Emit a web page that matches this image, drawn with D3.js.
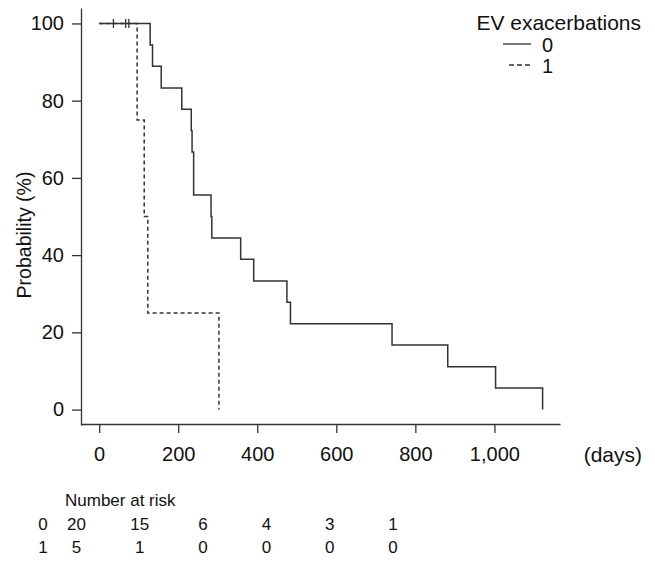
<!DOCTYPE html>
<html>
<head>
<meta charset="utf-8">
<script src="https://cdn.jsdelivr.net/npm/d3@7"></script>
<style>
  body { margin: 0; background: #fff; }
  text { font-family: Arial, "Liberation Sans", sans-serif; fill: #111; }
</style>
</head>
<body>
<svg></svg>
<script>
		// survival steps (days, % surviving)
		var times0 = [0, 129, 135, 157, 209, 233, 235, 239, 283, 285, 358, 391, 475, 484, 741, 882, 1003, 1122];
		var surv0  = [100, 94.4, 88.9, 83.3, 77.8, 72.2, 66.7, 55.6, 50, 44.4, 38.9, 33.3, 27.8, 22.2, 16.7, 11.1, 5.6, 0];
		var times1 = [0, 96, 114, 123, 303];
		var surv1  = [100, 75, 50, 25, 0];
		var censorTimes = [36, 67, 75];

		// number at risk table
		var riskTimes = [0, 200, 400, 600, 800, 1000];
		var risk0 = [20, 15, 6, 4, 3, 1];
		var risk1 = [5, 1, 0, 0, 0, 0];

		var xTicks = [0, 200, 400, 600, 800, 1000];
		var yTicks = [0, 20, 40, 60, 80, 100];
		var groups = ["0", "1"];

		var svgWidth = 655, svgHeight = 563;
		var lineColor = "#333";

		var svg = d3.select('svg')
		    .attr("width", svgWidth)
		    .attr("height", svgHeight);

		// scales
		var xScale = d3.scaleLinear()
		    .domain([-46, 1166])
		    .range([81, 560]);

		var yScale = d3.scaleLinear()
		    .domain([-4, 104])
		    .range([425, 8]);

		var riskScale = d3.scaleLinear()
		    .domain([0, 1000])
		    .range([76.5, 393]);

		// axes
		var x_axis = d3.axisBottom(xScale)
		    .tickValues(xTicks)
		    .tickSizeInner(9)
		    .tickSizeOuter(0)
		    .tickPadding(14)
		    .tickFormat(d3.format(","));

		var gx = svg.append("g")
		    .attr("transform", "translate(0, 424)")
		    .call(x_axis);

		var y_axis = d3.axisLeft(yScale)
		    .tickValues(yTicks)
		    .tickSizeInner(9)
		    .tickSizeOuter(0)
		    .tickPadding(8);

		var gy = svg.append("g")
		    .attr("transform", "translate(81, 0)")
		    .call(y_axis);

		[gx, gy].forEach(function(g) {
		    g.select(".domain").attr("stroke", lineColor).attr("stroke-width", 1.3);
		    g.selectAll(".tick line").attr("stroke", lineColor).attr("stroke-width", 1.3);
		    g.selectAll(".tick text")
		        .attr("fill", "#111")
		        .style("font-size", "20px")
		        .style("font-family", "Arial, 'Liberation Sans', sans-serif");
		});

		// axis titles
		svg.append("text")
		    .attr("transform", "translate(31, 235) rotate(-90)")
		    .attr("text-anchor", "middle")
		    .style("font-size", "19.5px")
		    .text("Probability (%)");

		svg.append("text")
		    .attr("x", 642)
		    .attr("y", 462)
		    .attr("text-anchor", "end")
		    .style("font-size", "21px")
		    .text("(days)");

		// step curves
		var stepLine = d3.line()
		    .x(function(d) { return xScale(d[0]); })
		    .y(function(d) { return yScale(d[1]); })
		    .curve(d3.curveStepAfter);

		svg.append("path")
		    .datum(d3.zip(times0, surv0))
		    .attr("d", stepLine)
		    .attr("fill", "none")
		    .attr("stroke", lineColor)
		    .attr("stroke-width", 1.5);

		svg.append("path")
		    .datum(d3.zip(times1, surv1))
		    .attr("d", stepLine)
		    .attr("fill", "none")
		    .attr("stroke", lineColor)
		    .attr("stroke-width", 1.5)
		    .attr("stroke-dasharray", "4,3");

		// censor marks
		svg.selectAll("line.censor")
		    .data(censorTimes)
		    .enter()
		    .append("line")
		    .attr("class", "censor")
		    .attr("x1", function(d) { return xScale(d); })
		    .attr("x2", function(d) { return xScale(d); })
		    .attr("y1", yScale(100) - 4.5)
		    .attr("y2", yScale(100) + 4.5)
		    .attr("stroke", lineColor)
		    .attr("stroke-width", 1.3);

		// legend
		svg.append("text")
		    .attr("x", 641)
		    .attr("y", 30)
		    .attr("text-anchor", "end")
		    .style("font-size", "21px")
		    .text("EV exacerbations");

		var legend = svg.selectAll("g.legend")
		    .data(groups)
		    .enter()
		    .append("g")
		    .attr("class", "legend")
		    .attr("transform", function(d, i) {
		        return "translate(0," + (44 + i * 21) + ")";
		    });

		legend.append("line")
		    .attr("x1", function(d, i) { return i == 0 ? 503 : 509; })
		    .attr("x2", 531)
		    .attr("stroke", lineColor)
		    .attr("stroke-width", 1.3)
		    .attr("stroke-dasharray", function(d, i) { return i == 0 ? null : "5,3"; });

		legend.append("text")
		    .attr("x", 542)
		    .attr("y", 7.5)
		    .style("font-size", "20px")
		    .text(function(d) { return d; });

		// number at risk table
		svg.append("text")
		    .attr("x", 65)
		    .attr("y", 506)
		    .style("font-size", "17px")
		    .text("Number at risk");

		[risk0, risk1].forEach(function(row, r) {
		    var yRow = 530 + r * 23;
		    svg.append("text")
		        .attr("x", 43)
		        .attr("y", yRow)
		        .attr("text-anchor", "middle")
		        .style("font-size", "17px")
		        .text(groups[r]);

		    svg.selectAll("text.risk" + r)
		        .data(row)
		        .enter()
		        .append("text")
		        .attr("class", "risk" + r)
		        .attr("x", function(d, i) { return riskScale(riskTimes[i]); })
		        .attr("y", yRow)
		        .attr("text-anchor", "middle")
		        .style("font-size", "17px")
		        .text(function(d) { return d; });
		});
</script>
</body>
</html>
